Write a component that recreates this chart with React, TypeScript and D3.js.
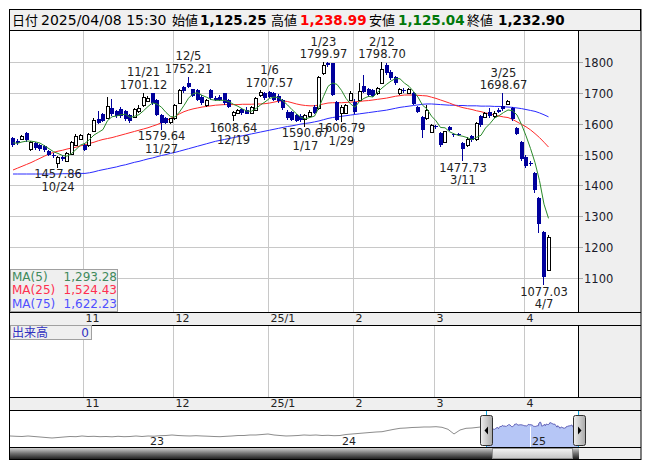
import React from "react";
import * as d3 from "d3";

// ---- trading days (Oct 2024 - Apr 2025) ----
const OCT_DAYS = [9, 10, 11, 15, 16, 17, 18, 21, 22, 23, 24, 25, 28, 29, 30, 31];
const NOV_DAYS = [1, 5, 6, 7, 8, 11, 12, 13, 14, 15, 18, 19, 20, 21, 22, 25, 26, 27, 28, 29];
const DEC_DAYS = [2, 3, 4, 5, 6, 9, 10, 11, 12, 13, 16, 17, 18, 19, 20, 23, 24, 25, 26, 27, 30];
const JAN_DAYS = [6, 7, 8, 9, 10, 14, 15, 16, 17, 20, 21, 22, 23, 24, 27, 28, 29, 30, 31];
const FEB_DAYS = [3, 4, 5, 6, 7, 10, 12, 13, 14, 17, 18, 19, 20, 21, 25, 26, 27, 28];
const MAR_DAYS = [3, 4, 5, 6, 7, 10, 11, 12, 13, 14, 17, 18, 19, 21, 24, 25, 26, 27, 28, 31];
const APR_DAYS = [1, 2, 3, 4, 7, 8];
const MONTHS = [10, 11, 12, 1, 2, 3, 4];
const MONTH_DAYS = [OCT_DAYS, NOV_DAYS, DEC_DAYS, JAN_DAYS, FEB_DAYS, MAR_DAYS, APR_DAYS];
const MONTH_LABELS = ["", "11", "12", "25/1", "2", "3", "4"];

// ---- OHLC ----
const OPENS = [
  1553, 1545, 1550, 1570, 1517, 1537, 1531, 1528, 1513, 1500, 1474, 1492, 1480, 1503, 1532, 1552,
  1530, 1530, 1575, 1616, 1630, 1620, 1652, 1641, 1648, 1640, 1628, 1623, 1640, 1660, 1675, 1698, 1677, 1628, 1617, 1607,
  1617, 1668, 1718, 1731, 1711, 1709, 1688, 1661, 1709, 1684, 1688, 1698, 1677, 1628, 1634, 1647, 1646, 1636, 1644, 1693, 1700,
  1704, 1698, 1690, 1677, 1639, 1637, 1628, 1625, 1614, 1625, 1655, 1650, 1763, 1796, 1796, 1671, 1636, 1634, 1677,
  1671, 1677, 1722, 1711, 1708, 1698, 1733, 1790, 1769, 1752, 1698, 1708, 1701, 1698, 1655, 1621, 1617, 1574,
  1592, 1569, 1540, 1589, 1566, 1566, 1537, 1530, 1560, 1549, 1625, 1623, 1639, 1625, 1645, 1657, 1663, 1650, 1585, 1542,
  1493, 1474, 1440, 1358, 1250, 1125.25,
];
const HIGHS = [
  1557, 1551, 1563, 1573, 1545, 1540, 1535, 1532, 1516, 1505, 1496, 1497, 1508, 1545, 1566, 1567,
  1533, 1570, 1617, 1640, 1634, 1685, 1679, 1645, 1655, 1645, 1632, 1650, 1662, 1701.12, 1690, 1700, 1680, 1632, 1622, 1620,
  1663, 1712, 1722, 1752.21, 1714, 1712, 1692, 1680, 1712, 1690, 1692, 1700, 1680, 1642, 1648, 1650, 1653, 1656, 1686, 1708, 1704,
  1707.57, 1702, 1695, 1680, 1643, 1640, 1632, 1630, 1632, 1643, 1660, 1756, 1799.97, 1799, 1798, 1675, 1660, 1665, 1705,
  1680, 1731, 1758, 1716, 1712, 1718, 1798.7, 1797, 1773, 1756, 1715, 1716, 1715, 1702, 1658, 1625, 1661, 1600,
  1596, 1572, 1578, 1592, 1570, 1569, 1540, 1556, 1564, 1605, 1628, 1638, 1650, 1640, 1652, 1698.67, 1678, 1653, 1588, 1545,
  1497, 1478, 1445, 1362, 1252, 1238.99,
];
const LOWS = [
  1525, 1530, 1546, 1542, 1512, 1516, 1512, 1508, 1495, 1488, 1457.86, 1478, 1476, 1500, 1528, 1548,
  1510, 1526, 1572, 1598, 1605, 1616, 1626, 1620, 1620, 1610, 1603, 1618, 1635, 1655, 1670, 1662, 1625, 1579.64, 1598, 1600,
  1613, 1665, 1700, 1715, 1686, 1672, 1660, 1655, 1678, 1672, 1674, 1662, 1650, 1608.64, 1630, 1628, 1630, 1630, 1640, 1688, 1678,
  1684, 1672, 1668, 1645, 1612, 1608, 1605, 1606, 1590.67, 1620, 1630, 1646, 1758, 1785, 1690, 1608, 1606.79, 1630, 1672,
  1632, 1672, 1700, 1688, 1686, 1694, 1730, 1758, 1742, 1726, 1694, 1700, 1697, 1660, 1634, 1553, 1612, 1570,
  1584, 1525, 1536, 1575, 1558, 1560, 1477.73, 1526, 1542, 1545, 1590, 1618, 1620, 1620, 1634, 1642, 1660, 1610, 1562, 1480,
  1458, 1462, 1375, 1245, 1077.03, 1125.04,
];
const CLOSES = [
  1532, 1538, 1559, 1546, 1542, 1521, 1518, 1515, 1499, 1494, 1492, 1485, 1505, 1540, 1560, 1563,
  1514, 1567, 1613, 1603, 1609, 1658, 1630, 1625, 1625, 1615, 1608, 1647, 1652, 1688, 1684, 1666, 1628, 1601, 1603, 1617,
  1660, 1709, 1707, 1720, 1690, 1677, 1666, 1677, 1682, 1677, 1677, 1666, 1655, 1639, 1645, 1634, 1632, 1653, 1682, 1704, 1682,
  1688, 1677, 1672, 1650, 1617, 1612, 1610, 1612, 1628, 1639, 1634, 1752, 1790, 1790, 1693, 1612, 1655, 1661, 1700,
  1639, 1707, 1704, 1693, 1690, 1715, 1776, 1763, 1747, 1731, 1711, 1705, 1712, 1664, 1639, 1580, 1644, 1596,
  1588, 1531, 1575, 1580, 1562, 1562, 1517, 1552, 1547, 1601, 1596, 1634, 1625, 1636, 1639, 1647, 1675, 1614, 1567, 1485,
  1463, 1470, 1385, 1275, 1103.5, 1232.9,
];
// closes of the 4 sessions before the first visible one (for MA5)
const PRE_CLOSES = [1545, 1538, 1532, 1543];

// ---- moving averages ----
const MA25 = [
  1450, 1456, 1462, 1468, 1474, 1481, 1488, 1495, 1502, 1507, 1511, 1514, 1518, 1521, 1524, 1528,
  1532, 1536, 1540, 1545, 1549, 1552, 1555, 1559, 1563, 1567, 1571, 1575, 1579, 1583, 1587, 1592, 1597, 1603, 1610, 1617,
  1624, 1632, 1639, 1644, 1648, 1651, 1654, 1656, 1658, 1660, 1661, 1662, 1662, 1662, 1662, 1663, 1663, 1663, 1664, 1664, 1665,
  1667, 1670, 1673, 1674, 1672, 1668, 1664, 1661, 1659, 1658, 1658, 1661, 1664, 1667, 1668, 1668, 1668, 1669, 1670,
  1671, 1672, 1674, 1675, 1677, 1679, 1681, 1683, 1686, 1689, 1691, 1693, 1693, 1693, 1692, 1691, 1690, 1686,
  1682, 1677, 1672, 1667, 1661, 1656, 1652, 1649, 1646, 1642, 1639, 1635, 1632, 1628, 1625, 1622, 1620, 1614, 1606, 1598,
  1590, 1580, 1568, 1555, 1540, 1524.43,
];
const MA75 = [
  1437, 1437, 1437, 1437, 1437, 1437, 1437, 1437, 1437, 1437, 1437, 1438, 1438, 1438, 1438, 1439,
  1439, 1441, 1444, 1448, 1451, 1454, 1457, 1460, 1464, 1467, 1471, 1475, 1478, 1482, 1486, 1489, 1493, 1497, 1500, 1504,
  1507, 1511, 1515, 1519, 1523, 1527, 1531, 1535, 1539, 1543, 1546, 1549, 1552, 1555, 1558, 1561, 1564, 1567, 1570, 1573, 1576,
  1579, 1582, 1585, 1588, 1591, 1593, 1596, 1599, 1601, 1603, 1606, 1609, 1613, 1617, 1620, 1622, 1624, 1626, 1628,
  1630, 1632, 1634, 1636, 1638, 1640, 1642, 1644, 1647, 1650, 1653, 1655, 1657, 1659, 1661, 1663, 1664, 1664,
  1663, 1662, 1661, 1660, 1660, 1659, 1659, 1658, 1658, 1658, 1657, 1657, 1657, 1656, 1656, 1655, 1654, 1653, 1651, 1649,
  1646, 1643, 1640, 1635, 1629, 1622.23,
];

// ---- annotations ----
const HIGH_MARKS = ["11/21", "12/5", "1/6", "1/23", "2/12", "3/25"];
const LOW_MARKS = ["10/24", "11/27", "12/19", "1/17", "1/29", "3/11", "4/7"];
const Y_TICKS = [1100, 1200, 1300, 1400, 1500, 1600, 1700, 1800];
const LEGEND_NAMES = ["MA(5)", "MA(25)", "MA(75)"];
const LEGEND_VALUES = ["1,293.28", "1,524.43", "1,622.23"];

// ---- header ----
const HEADER_DATE = "2025/04/08 15:30";
const HEADER_LABELS = ["始値", "高値", "安値", "終値"];
const HEADER_VALUES = ["1,125.25", "1,238.99", "1,125.04", "1,232.90"];

// ---- navigator (long history, roughly weekly) ----
const NAV_HISTORY = [
  1200, 1187, 1178, 1200, 1178, 1157, 1135, 1114, 1135, 1157, 1178, 1170, 1200, 1178, 1187, 1170,
  1178, 1165, 1187, 1170, 1178, 1200, 1178, 1200, 1191, 1213, 1221, 1243, 1221, 1208, 1200, 1213,
  1200, 1191, 1178, 1170, 1187, 1200, 1221, 1221, 1243, 1243, 1264, 1286, 1243, 1221, 1200, 1208,
  1221, 1243, 1230, 1243, 1221, 1230, 1213, 1221, 1264, 1286, 1307, 1329, 1350, 1371, 1384, 1436,
  1487, 1530, 1543, 1564, 1573, 1586, 1586, 1599, 1573, 1487, 1286, 1457, 1530, 1543, 1573, 1607,
];
const NAV_YEARS = [
  { label: "23", hist: 23 },
  { label: "24", hist: 55 },
];
const NAV_YEAR_WINDOW = { label: "25", win: 57 };

const FONT = "'DejaVu Sans', Verdana, sans-serif";
const CJK = "'Noto Sans CJK JP', 'DejaVu Sans', sans-serif";

const BLUE = "#00009c";

export default function App() {
  const N = CLOSES.length;
  // dates
  const dates: { m: number; d: number }[] = [];
  MONTH_DAYS.forEach((days, mi) => days.forEach((d) => dates.push({ m: MONTHS[mi], d })));
  const monthStarts: { i: number; label: string }[] = [];
  let acc = 0;
  MONTH_DAYS.forEach((days, mi) => {
    if (mi > 0) monthStarts.push({ i: acc, label: MONTH_LABELS[mi] });
    acc += days.length;
  });
  const dateKey = (p: { m: number; d: number }) => `${p.m}/${p.d}`;

  const x = d3.scaleLinear().domain([0, N - 1]).range([13, 13 + 4.5 * (N - 1)]);
  const y = d3.scaleLinear().domain([1100, 1800]).range([278, 62]);

  // MA5 from closes
  const all = [...PRE_CLOSES, ...CLOSES];
  const ma5 = CLOSES.map((_, i) => d3.mean(all.slice(i, i + 5)) as number);

  const line = d3
    .line<number>()
    .x((_, i) => x(i))
    .y((v) => y(v))
    .curve(d3.curveLinear);

  const gridXs = monthStarts.map((m) => ({ gx: Math.round(x(m.i) - 2) + 0.5, label: m.label }));

  // navigator
  const navHistX = d3.scaleLinear().domain([0, NAV_HISTORY.length - 1]).range([10, 484]);
  const navWinX = d3.scaleLinear().domain([0, N - 1]).range([486, 578.8]);
  const navY = d3.scaleLinear().domain([685, 2315]).range([448, 410]);
  const histPts: [number, number][] = NAV_HISTORY.map((v, i) => [navHistX(i), navY(v)]);
  const winPts: [number, number][] = CLOSES.map((v, i) => [navWinX(i), navY(v)]);
  const navLine = d3.line<[number, number]>();
  const winArea = d3
    .area<[number, number]>()
    .x((p) => p[0])
    .y0(448)
    .y1((p) => p[1]);

  const candles = CLOSES.map((c, i) => {
    const o = OPENS[i], h = HIGHS[i], l = LOWS[i];
    const left = Math.round(x(i) - 2);
    const wx = left + 1.5;
    const up = c > o;
    const top = Math.round(y(Math.max(o, c)));
    const bot = Math.round(y(Math.min(o, c)));
    const yh = Math.round(y(h));
    const yl = Math.round(y(l));
    if (up) {
      return (
        <g key={i}>
          <line x1={wx} x2={wx} y1={yh} y2={top} stroke="#000" />
          <line x1={wx} x2={wx} y1={bot + 1} y2={yl} stroke="#000" />
          <rect x={left + 0.5} y={top + 0.5} width={3} height={Math.max(bot - top, 1)} fill="#fff" stroke="#000" />
        </g>
      );
    }
    return (
      <g key={i}>
        <line x1={wx} x2={wx} y1={yh} y2={yl} stroke={BLUE} />
        <rect x={left} y={top} width={4} height={Math.max(bot - top, 1)} fill={BLUE} />
      </g>
    );
  });

  const findIdx = (key: string) => dates.findIndex((p) => dateKey(p) === key);

  const highLabels = HIGH_MARKS.map((k) => {
    const i = findIdx(k);
    const yy = y(HIGHS[i]);
    return (
      <g key={"h" + k} fontFamily={FONT} fontSize={11.5} fill="#222" textAnchor="middle">
        <text x={x(i)} y={yy - 16.5}>{k}</text>
        <text x={x(i)} y={yy - 4}>{HIGHS[i].toFixed(2)}</text>
      </g>
    );
  });
  const lowLabels = LOW_MARKS.map((k) => {
    const i = findIdx(k);
    const yy = y(LOWS[i]);
    return (
      <g key={"l" + k} fontFamily={FONT} fontSize={11.5} fill="#222" textAnchor="middle">
        <text x={x(i)} y={yy + 10.5}>{LOWS[i].toFixed(2)}</text>
        <text x={x(i)} y={yy + 23}>{k}</text>
      </g>
    );
  });

  const legendColors = ["#3f8a5c", "#ff3050", "#5050ff"];
  const headerValueColors = ["#000", "#ff0000", "#00780a", "#000"];
  const headerLabelX = [172, 271, 369, 467];
  const headerValueX = [200, 300, 398, 498];

  return (
    <svg
      width={653}
      height={470}
      style={{ position: "absolute", left: 0, top: 0, display: "block", background: "#fff" }}
    >
      <defs>
        <clipPath id="plotClip">
          <rect x={10} y={31} width={568} height={281} />
        </clipPath>
        <linearGradient id="scrollDark" x1="0" y1="0" x2="0" y2="1">
          <stop offset="0" stopColor="#d0d0d0" />
          <stop offset="0.5" stopColor="#707070" />
          <stop offset="1" stopColor="#202020" />
        </linearGradient>
        <linearGradient id="scrollThumb" x1="0" y1="0" x2="0" y2="1">
          <stop offset="0" stopColor="#f4f4f4" />
          <stop offset="1" stopColor="#c4c4c4" />
        </linearGradient>
        <linearGradient id="handleGrad" x1="0" y1="0" x2="1" y2="0">
          <stop offset="0" stopColor="#f0f0f0" />
          <stop offset="1" stopColor="#a8a8a8" />
        </linearGradient>
      </defs>

      {/* header */}
      <rect x={9.5} y={9.5} width={631} height={21} fill="#f0f0f0" stroke="#000" />
      <text x={12} y={25} fontFamily={CJK} fontSize={13} fill="#000">日付</text>
      <text x={41} y={25} fontFamily={FONT} fontSize={14} fill="#000">{HEADER_DATE}</text>
      {HEADER_LABELS.map((lab, i) => (
        <text key={lab} x={headerLabelX[i]} y={25} fontFamily={CJK} fontSize={13} fill="#000">{lab}</text>
      ))}
      {HEADER_VALUES.map((v, i) => (
        <text key={"hv" + i} x={headerValueX[i]} y={25} fontFamily={FONT} fontSize={13.5} fontWeight="bold" fill={headerValueColors[i]}>{v}</text>
      ))}

      {/* main panel backgrounds */}
      <rect x={10} y={31} width={568} height={281} fill="#fff" />
      <rect x={579} y={31} width={62} height={281} fill="#efefef" />

      {/* grid */}
      {Y_TICKS.map((t) => {
        const yy = Math.round(y(t)) + 0.5;
        return (
          <g key={"yt" + t}>
            <line x1={10} x2={578} y1={yy} y2={yy} stroke="#c8c8c8" />
            <line x1={579} x2={583} y1={yy} y2={yy} stroke="#a8a8a8" />
            <text x={584} y={yy + 4.3} fontFamily={FONT} fontSize={11.5} fill="#1a1a2a">{t}</text>
          </g>
        );
      })}
      {gridXs.map((g) => (
        <line key={"gx" + g.label} x1={g.gx} x2={g.gx} y1={31} y2={312} stroke="#c8c8c8" />
      ))}

      <g clipPath="url(#plotClip)">
        <path d={line(MA75) || ""} fill="none" stroke="#2a2aff" strokeWidth={1} />
        <path d={line(MA25) || ""} fill="none" stroke="#ff2a2a" strokeWidth={1} />
        {candles}
        <path d={line(ma5) || ""} fill="none" stroke="#2a8a2a" strokeWidth={1} />
        {highLabels}
        {lowLabels}
      </g>

      {/* legend */}
      <rect x={10.5} y={269.5} width={107} height={42} fill="#efefef" stroke="#a0a0a0" />
      {LEGEND_NAMES.map((n, i) => (
        <g key={n} fontFamily={FONT} fontSize={12} fill={legendColors[i]}>
          <text x={12} y={280.5 + i * 13.7}>{n}</text>
          <text x={117} y={280.5 + i * 13.7} textAnchor="end">{LEGEND_VALUES[i]}</text>
        </g>
      ))}

      <line x1={578.5} x2={578.5} y1={31} y2={312} stroke="#000" />

      {/* axis band 1 */}
      <rect x={10} y={313} width={631} height={12} fill="#efefef" />
      <line x1={9.5} x2={641} y1={312.5} y2={312.5} stroke="#000" />
      <line x1={9.5} x2={641} y1={325.5} y2={325.5} stroke="#000" />
      {gridXs.map((g) => (
        <text key={"b1" + g.label} x={g.gx + 2} y={322} fontFamily={FONT} fontSize={11} fill="#222">{g.label}</text>
      ))}

      {/* volume panel */}
      <rect x={10} y={326} width={568} height={71} fill="#fff" />
      <rect x={579} y={326} width={62} height={71} fill="#efefef" />
      {gridXs.map((g) => (
        <line key={"vg" + g.label} x1={g.gx} x2={g.gx} y1={326} y2={397} stroke="#c8c8c8" />
      ))}
      <rect x={10.5} y={325.5} width={81} height={14} fill="#efefef" stroke="#a0a0a0" />
      <text x={12} y={336.5} fontFamily={CJK} fontSize={12} fill="#3030c0">出来高</text>
      <text x={89} y={336.5} fontFamily={FONT} fontSize={12} fill="#3030c0" textAnchor="end">0</text>
      <line x1={578.5} x2={578.5} y1={326} y2={397} stroke="#000" />

      {/* axis band 2 */}
      <rect x={10} y={398} width={631} height={12} fill="#efefef" />
      <line x1={9.5} x2={641} y1={397.5} y2={397.5} stroke="#000" />
      <line x1={9.5} x2={641} y1={410.5} y2={410.5} stroke="#000" />
      {gridXs.map((g) => (
        <text key={"b2" + g.label} x={g.gx + 2} y={407} fontFamily={FONT} fontSize={11} fill="#222">{g.label}</text>
      ))}

      {/* navigator */}
      <rect x={10} y={411} width={569} height={37} fill="#fff" />
      <rect x={579} y={411} width={62} height={48} fill="#efefef" />
      <path d={winArea(winPts) || ""} fill="#b6c6f6" />
      <path d={navLine([...histPts, winPts[0]]) || ""} fill="none" stroke="#8c8c8c" />
      <path d={navLine(winPts) || ""} fill="none" stroke="#5a5ab4" />
      {NAV_YEARS.map((yr) => (
        <text key={yr.label} x={navHistX(yr.hist) + 2} y={444.5} fontFamily={FONT} fontSize={11} fill="#222">{yr.label}</text>
      ))}
      <line
        x1={Math.round(navWinX(NAV_YEAR_WINDOW.win)) + 0.5}
        x2={Math.round(navWinX(NAV_YEAR_WINDOW.win)) + 0.5}
        y1={navY(CLOSES[NAV_YEAR_WINDOW.win]) + 2}
        y2={448}
        stroke="#fff"
      />
      <text x={navWinX(NAV_YEAR_WINDOW.win) + 1.5} y={444.5} fontFamily={FONT} fontSize={11} fill="#222">{NAV_YEAR_WINDOW.label}</text>
      <line x1={486.5} x2={486.5} y1={411} y2={448} stroke="#10a8e0" />
      <line x1={578.5} x2={578.5} y1={411} y2={448} stroke="#10a8e0" />

      {/* scrollbar */}
      <rect x={10} y={448} width={569} height={11} fill="url(#scrollDark)" />
      <rect x={492.5} y={448.5} width={80} height={10} fill="url(#scrollThumb)" stroke="#909090" />

      {/* handles */}
      {[480, 573].map((hx, k) => (
        <g key={"hd" + hx}>
          <rect x={hx + 0.5} y={415.5} width={12} height={30} rx={2} fill="url(#handleGrad)" stroke="#303030" />
          {k === 0 ? (
            <path d={`M${hx + 4.5},430.5 L${hx + 8},426.5 L${hx + 8},434.5 Z`} fill="#000" />
          ) : (
            <path d={`M${hx + 8.5},430.5 L${hx + 5},426.5 L${hx + 5},434.5 Z`} fill="#000" />
          )}
        </g>
      ))}

      {/* outer frame */}
      <line x1={9.5} x2={641} y1={447.5} y2={447.5} stroke="#000" />
      <rect x={9.5} y={9.5} width={631.5} height={450} fill="none" stroke="#000" />
    </svg>
  );
}
